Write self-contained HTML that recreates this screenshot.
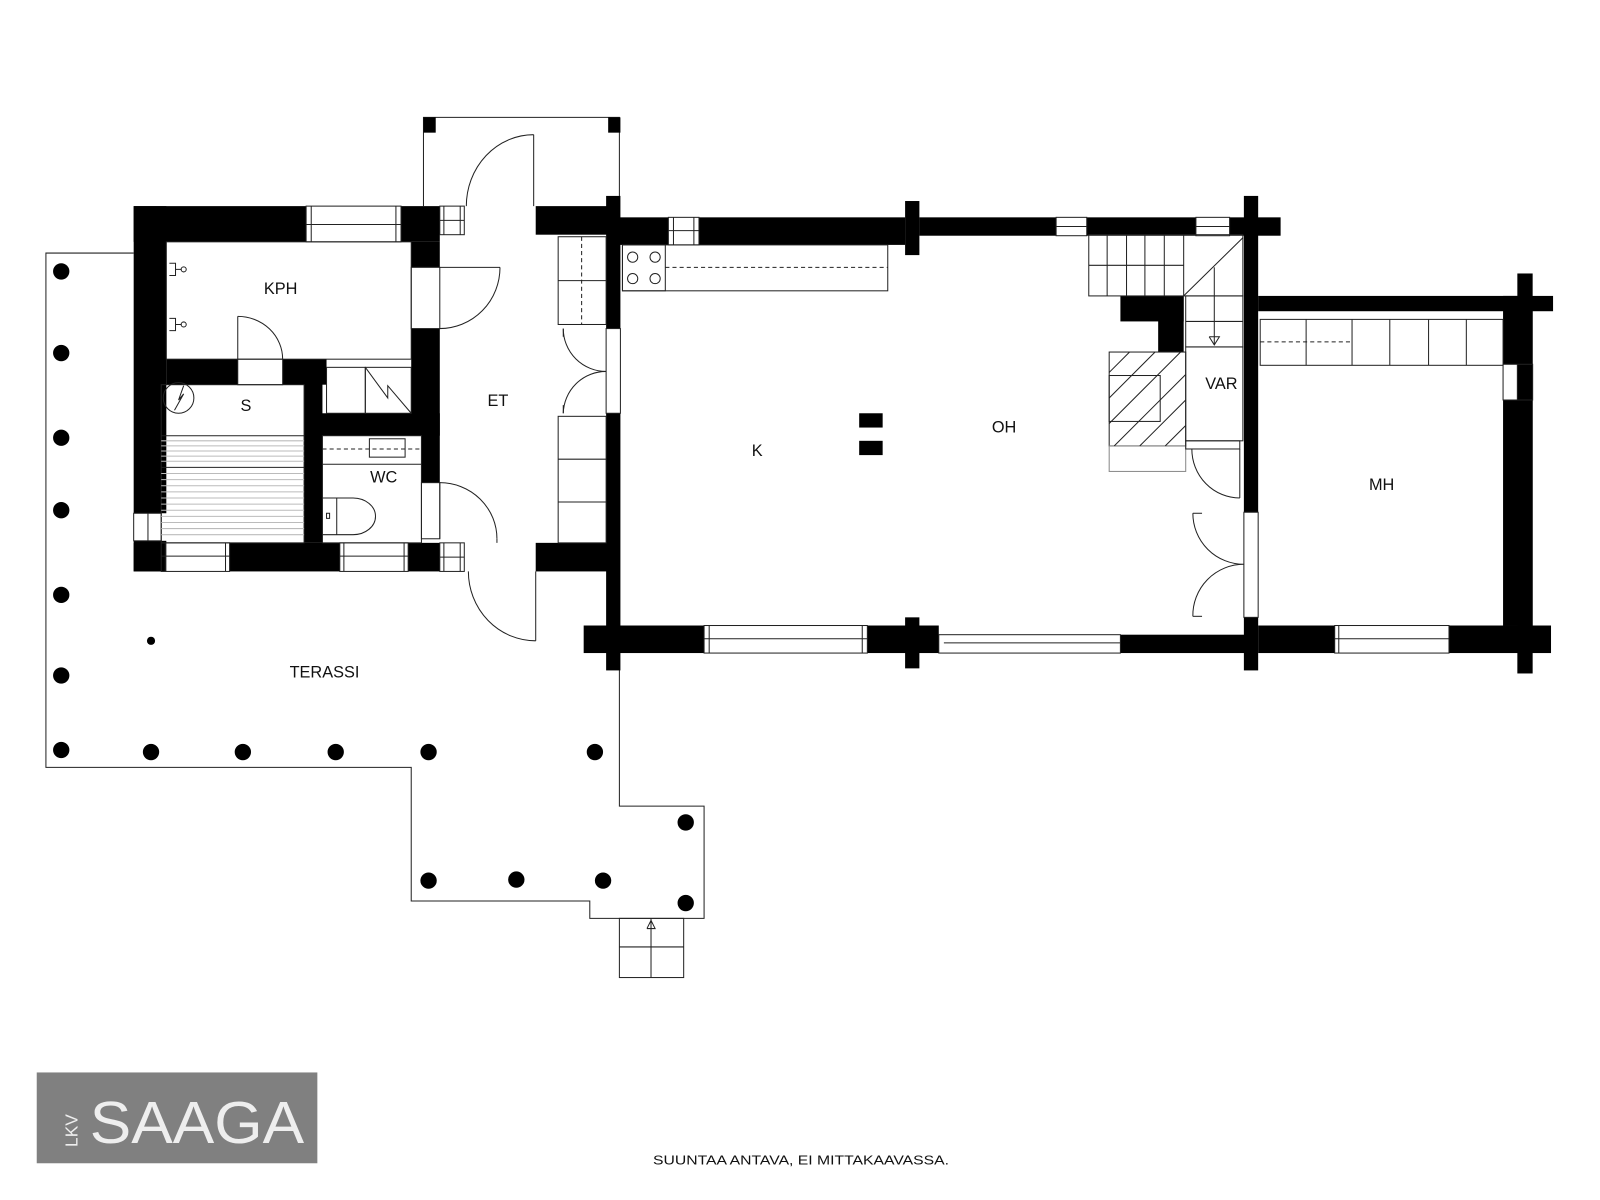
<!DOCTYPE html>
<html><head><meta charset="utf-8"><style>
html,body{margin:0;padding:0;background:#fff;}
svg{display:block;}
text{font-family:"Liberation Sans",sans-serif;}
</style></head><body>
<svg width="1600" height="1200" viewBox="0 0 1568 1176" preserveAspectRatio="none" xmlns="http://www.w3.org/2000/svg">
<rect width="1568" height="1176" fill="#fff"/>
<g fill="none" stroke="#222" stroke-width="1">
<polyline points="131,248 45,248 45,752 403,752 403,883 578,883 578,900 690,900 690,790 607,790 607,640"/>
<rect x="607" y="900" width="63" height="58"/><line x1="638" y1="900" x2="638" y2="958"/><line x1="607" y1="928" x2="670" y2="928"/>
<polyline points="634,910 638,902 642,910 634,910"/>
<polyline points="415,202 415,115 607,115 607,202"/>
<line x1="523" y1="132" x2="523" y2="202"/><path d="M457,202 A66,70 0 0 1 523,132"/>
<line x1="525" y1="560" x2="525" y2="628"/><path d="M459,560 A66,68 0 0 0 525,628"/>
</g>
<g fill="#000">
<rect x="415" y="115" width="12" height="15"/><rect x="596" y="115" width="12" height="15"/>
<rect x="131" y="202" width="169" height="35"/>
<rect x="393" y="202" width="38" height="35"/>
<rect x="525" y="202" width="75" height="28"/>
<rect x="131" y="202" width="32" height="301"/>
<rect x="131" y="530" width="32" height="30"/>
<rect x="131" y="532" width="27" height="28"/>
<rect x="225" y="532" width="108" height="28"/>
<rect x="400" y="532" width="31" height="28"/>
<rect x="525" y="532" width="75" height="28"/>
<rect x="403" y="237" width="28" height="25"/>
<rect x="403" y="322" width="28" height="105"/>
<rect x="413" y="405" width="18" height="68"/>
<rect x="163" y="352" width="70" height="25"/>
<rect x="277" y="352" width="43" height="25"/>
<rect x="298" y="352" width="18" height="180"/>
<rect x="298" y="405" width="115" height="22"/>
<rect x="594" y="192" width="14" height="130"/>
<rect x="594" y="405" width="14" height="252"/>
<rect x="600" y="213" width="55" height="27"/>
<rect x="685" y="213" width="202" height="27"/>
<rect x="887" y="197" width="14" height="53"/>
<rect x="901" y="213" width="134" height="18"/>
<rect x="1065" y="213" width="107" height="18"/>
<rect x="1205" y="213" width="50" height="18"/>
<rect x="1219" y="192" width="14" height="310"/>
<rect x="1219" y="605" width="14" height="52"/>
<rect x="572" y="613" width="118" height="27"/>
<rect x="850" y="613" width="70" height="27"/>
<rect x="887" y="605" width="14" height="50"/>
<rect x="1098" y="622" width="134" height="18"/>
<rect x="1233" y="290" width="289" height="15"/>
<rect x="1487" y="268" width="15" height="392"/>
<rect x="1473" y="290" width="29" height="67"/>
<rect x="1473" y="392" width="29" height="221"/>
<rect x="1233" y="613" width="75" height="27"/>
<rect x="1420" y="613" width="100" height="27"/>
<rect x="1098" y="290" width="62" height="25"/><rect x="1135" y="290" width="25" height="55"/>
<rect x="842" y="405" width="23" height="14"/><rect x="842" y="432" width="23" height="14"/>
<circle cx="60" cy="266" r="8"/><circle cx="60" cy="346" r="8"/><circle cx="60" cy="429" r="8"/><circle cx="60" cy="500" r="8"/><circle cx="60" cy="583" r="8"/><circle cx="60" cy="662" r="8"/><circle cx="60" cy="735" r="8"/>
<circle cx="148" cy="737" r="8"/><circle cx="238" cy="737" r="8"/><circle cx="329" cy="737" r="8"/><circle cx="420" cy="737" r="8"/><circle cx="583" cy="737" r="8"/>
<circle cx="148" cy="628" r="4"/>
<circle cx="672" cy="806" r="8"/><circle cx="420" cy="863" r="8"/><circle cx="506" cy="862" r="8"/><circle cx="591" cy="863" r="8"/><circle cx="672" cy="885" r="8"/>
</g>
<g fill="none" stroke="#222" stroke-width="1">
<rect x="300" y="202" width="93" height="35"/><line x1="300" y1="220" x2="393" y2="220"/><line x1="305" y1="202" x2="305" y2="237"/><line x1="388" y1="202" x2="388" y2="237"/>
<rect x="431" y="202" width="24" height="28"/><line x1="431" y1="216" x2="455" y2="216"/><line x1="435" y1="202" x2="435" y2="230"/><line x1="451" y1="202" x2="451" y2="230"/>
<rect x="131" y="503" width="27" height="27"/><line x1="145" y1="503" x2="145" y2="530"/>
<rect x="158" y="532" width="67" height="28"/><line x1="158" y1="545" x2="225" y2="545"/><line x1="162" y1="532" x2="162" y2="560"/><line x1="221" y1="532" x2="221" y2="560"/>
<rect x="333" y="532" width="67" height="28"/><line x1="333" y1="545" x2="400" y2="545"/><line x1="337" y1="532" x2="337" y2="560"/><line x1="396" y1="532" x2="396" y2="560"/>
<rect x="431" y="532" width="24" height="28"/><line x1="435" y1="532" x2="435" y2="560"/><line x1="451" y1="532" x2="451" y2="560"/><line x1="431" y1="546" x2="455" y2="546"/>
<rect x="655" y="213" width="30" height="27"/><line x1="655" y1="226" x2="685" y2="226"/><line x1="660" y1="213" x2="660" y2="240"/><line x1="680" y1="213" x2="680" y2="240"/>
<rect x="1035" y="213" width="30" height="18"/><line x1="1035" y1="222" x2="1065" y2="222"/>
<rect x="1172" y="213" width="33" height="18"/><line x1="1172" y1="222" x2="1205" y2="222"/>
<rect x="690" y="613" width="160" height="27"/><line x1="690" y1="626" x2="850" y2="626"/><line x1="695" y1="613" x2="695" y2="640"/><line x1="845" y1="613" x2="845" y2="640"/>
<rect x="920" y="622" width="178" height="18"/><line x1="925" y1="630" x2="1098" y2="630"/>
<rect x="1308" y="613" width="112" height="27"/><line x1="1308" y1="626" x2="1420" y2="626"/><line x1="1312" y1="613" x2="1312" y2="640"/>
<rect x="1473" y="357" width="29" height="35"/><line x1="1487" y1="357" x2="1487" y2="392"/>
<rect x="594" y="322" width="14" height="83"/>
<rect x="1219" y="502" width="14" height="103"/>
<rect x="403" y="262" width="28" height="60"/><line x1="431" y1="262" x2="490" y2="262"/><path d="M490,262 A59,60 0 0 1 431,322"/>
<rect x="413" y="473" width="18" height="55"/><line x1="431" y1="473" x2="431" y2="528"/><path d="M431,473 A56,55 0 0 1 487,528"/><line x1="487" y1="528" x2="487" y2="532"/>
<rect x="233" y="352" width="44" height="25"/><line x1="233" y1="310" x2="233" y2="352"/><path d="M233,310 A44,42 0 0 1 277,352"/>
<rect x="163" y="237" width="240" height="115"/>
<rect x="320" y="360" width="38" height="45"/><rect x="358" y="360" width="45" height="45"/><polyline points="358,360 380,390 380,378 403,405"/>
<path d="M166,258 h6 v12 h-6 M172,264 h6 M166,312 h6 v12 h-6 M172,318 h6"/><circle cx="180" cy="264" r="2.5"/><circle cx="180" cy="318" r="2.5"/>
<rect x="158" y="377" width="140" height="155"/>
<circle cx="175" cy="390" r="15"/><polyline points="171,402 180,386 175,392 180,378"/>
<line x1="158" y1="427" x2="298" y2="427"/><line x1="158" y1="458" x2="298" y2="458"/>
</g>
<g stroke="#bbb" stroke-width="1">
<line x1="158" y1="432" x2="298" y2="432"/><line x1="158" y1="437" x2="298" y2="437"/><line x1="158" y1="442" x2="298" y2="442"/><line x1="158" y1="447" x2="298" y2="447"/><line x1="158" y1="452" x2="298" y2="452"/>
<line x1="158" y1="464" x2="298" y2="464"/><line x1="158" y1="470" x2="298" y2="470"/><line x1="158" y1="476" x2="298" y2="476"/><line x1="158" y1="482" x2="298" y2="482"/><line x1="158" y1="488" x2="298" y2="488"/><line x1="158" y1="494" x2="298" y2="494"/><line x1="158" y1="500" x2="298" y2="500"/><line x1="158" y1="506" x2="298" y2="506"/><line x1="158" y1="512" x2="298" y2="512"/><line x1="158" y1="518" x2="298" y2="518"/><line x1="158" y1="524" x2="298" y2="524"/>
</g>
<g fill="none" stroke="#222" stroke-width="1">
<rect x="316" y="427" width="97" height="105"/>
<rect x="362" y="430" width="35" height="18"/><line x1="316" y1="440" x2="413" y2="440" stroke-dasharray="4,3"/><line x1="316" y1="455" x2="413" y2="455"/>
<path d="M316,488 h30 a22,18 0 0 1 0,36 h-30"/><line x1="330" y1="488" x2="330" y2="524"/><rect x="320" y="503" width="3" height="5"/>
<rect x="547" y="232" width="47" height="86"/><line x1="547" y1="275" x2="594" y2="275"/><line x1="570" y1="232" x2="570" y2="318" stroke-dasharray="4,3"/>
<path d="M594,364 A42,42 0 0 1 552,322 M594,364 A42,42 0 0 0 552,405"/>
<line x1="552" y1="322" x2="552" y2="330"/><line x1="552" y1="397" x2="552" y2="405"/>
<rect x="547" y="408" width="47" height="124"/><line x1="547" y1="450" x2="594" y2="450"/><line x1="547" y1="492" x2="594" y2="492"/>
<rect x="610" y="240" width="260" height="45"/><rect x="610" y="240" width="42" height="45"/>
<circle cx="620" cy="252" r="5"/><circle cx="642" cy="252" r="5"/><circle cx="620" cy="273" r="5"/><circle cx="642" cy="273" r="5"/>
<line x1="652" y1="262" x2="870" y2="262" stroke-dasharray="4,3"/>
<rect x="1067" y="230" width="151" height="60"/><line x1="1067" y1="260" x2="1160" y2="260"/>
<line x1="1085" y1="230" x2="1085" y2="290"/><line x1="1104" y1="230" x2="1104" y2="290"/><line x1="1122" y1="230" x2="1122" y2="290"/><line x1="1141" y1="230" x2="1141" y2="290"/><line x1="1160" y1="230" x2="1160" y2="290"/>
<line x1="1160" y1="290" x2="1218" y2="233"/>
<rect x="1162" y="290" width="56" height="50"/><line x1="1162" y1="315" x2="1218" y2="315"/>
<line x1="1190" y1="262" x2="1190" y2="338"/><polyline points="1185,330 1190,338 1195,330 1185,330"/>
<rect x="1087" y="345" width="75" height="92"/><rect x="1087" y="368" width="50" height="45"/>
<rect x="1087" y="437" width="75" height="25" stroke="#888"/>
<path d="M1087,365 L1107,345 M1087,390 L1132,345 M1087,415 L1157,345 M1092,437 L1162,367 M1117,437 L1162,392 M1142,437 L1162,417"/>
<rect x="1162" y="340" width="56" height="92"/>
<rect x="1162" y="432" width="53" height="8"/>
<line x1="1215" y1="440" x2="1215" y2="488"/><path d="M1168,440 A47,48 0 0 0 1215,488"/>
<path d="M1219,553 A50,50 0 0 1 1169,503 M1219,553 A50,50 0 0 0 1169,604"/>
<line x1="1169" y1="503" x2="1178" y2="503"/><line x1="1169" y1="604" x2="1178" y2="604"/>
<rect x="1235" y="313" width="238" height="45"/>
<line x1="1280" y1="313" x2="1280" y2="358"/><line x1="1325" y1="313" x2="1325" y2="358"/><line x1="1362" y1="313" x2="1362" y2="358"/><line x1="1400" y1="313" x2="1400" y2="358"/><line x1="1437" y1="313" x2="1437" y2="358"/>
<line x1="1235" y1="335" x2="1325" y2="335" stroke-dasharray="4,3"/>
</g>
<g font-size="16" fill="#111" text-anchor="middle">
<text x="275" y="288">KPH</text><text x="241" y="403">S</text><text x="488" y="398">ET</text><text x="376" y="473">WC</text>
<text x="742" y="447">K</text><text x="984" y="424">OH</text><text x="1197" y="381">VAR</text><text x="1354" y="480">MH</text>
<text x="318" y="664">TERASSI</text>
</g>
<rect x="36" y="1051" width="275" height="89" fill="#808080"/>
<text x="0" y="0" transform="translate(76,1124) rotate(-90)" font-size="17" fill="#eee" font-family="Liberation Sans,sans-serif">LKV</text>
<text x="88" y="1120" font-size="58" fill="#eee" font-family="Liberation Serif,serif" textLength="210" lengthAdjust="spacingAndGlyphs">SAAGA</text>
<text x="640" y="1141" font-size="13" fill="#111" textLength="290" lengthAdjust="spacingAndGlyphs">SUUNTAA ANTAVA, EI MITTAKAAVASSA.</text>
</svg>
</body></html>
